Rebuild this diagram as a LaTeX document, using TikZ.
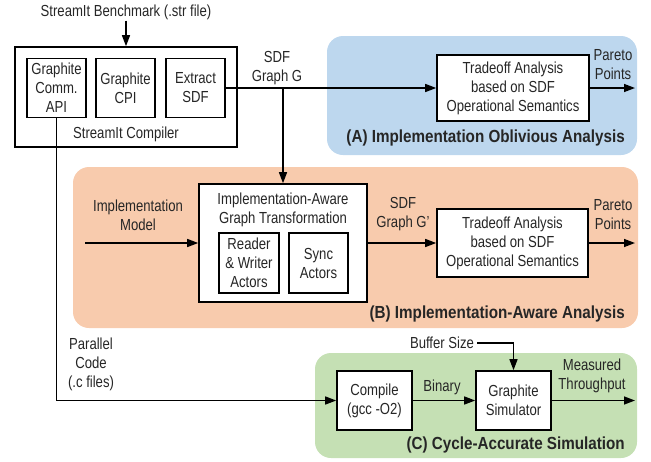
\documentclass[tikz,border=0pt]{standalone}
\usepackage{fontspec}
\setmainfont{Liberation Sans}[FakeStretch=0.82]
\newfontfamily\labfont{Liberation Sans}[FakeStretch=0.87]
\usetikzlibrary{arrows.meta}
\definecolor{regA}{RGB}{189,215,238}
\definecolor{regB}{RGB}{248,203,173}
\definecolor{regC}{RGB}{197,224,180}
\definecolor{ink}{RGB}{38,38,38}
\tikzset{
  box/.style={draw=black, line width=1.6pt, fill=white, inner sep=0pt, align=center, font=\fontsize{16}{19}\selectfont, text=ink},
  txt/.style={inner sep=1pt, align=center, font=\fontsize{16}{19}\selectfont, text=ink},
  reglab/.style={inner sep=0pt, anchor=east, font=\labfont\bfseries\fontsize{17.5}{19}\selectfont, text=ink},
  region/.style={rounded corners=16pt},
  arr/.style={line width=1.4pt, -{Triangle[length=11pt,width=8pt]}},
  ln/.style={line width=1.4pt}
}
\begin{document}
\begin{tikzpicture}[x=1pt,y=-1pt]
\useasboundingbox (0,0) rectangle (651,461);
% regions
\fill[regA, region] (327,36) rectangle (637,155);
\fill[regB, region] (73,167) rectangle (638,328);
\fill[regC, region] (315,353) rectangle (637,458);
% compiler
\node[txt] (bench) at (126,12) {StreamIt Benchmark (.str file)};
\node[box, minimum width=222pt, minimum height=100pt] (comp) at (126,97) {};
\node[box, minimum width=59pt, minimum height=59pt] (comm) at (56.5,88) {Graphite\\Comm.\\API};
\node[box, minimum width=59pt, minimum height=59pt] (cpi) at (125.5,88) {Graphite\\CPI};
\node[box, minimum width=59pt, minimum height=59pt] (extract) at (195.5,88) {Extract\\SDF};
\node[txt] (complab) at (126,134) {StreamIt Compiler};
\node[txt] (sdfg) at (277,68) {SDF\\Graph G};
% A
\node[box, minimum width=152pt, minimum height=66pt] (tradeA) at (513,88) {Tradeoff Analysis\\based on SDF\\Operational Semantics};
\node[txt] (parA) at (613,65) {Pareto\\Points};
\coordinate (outA) at (635,88);
\node[reglab] (labA) at (625,138) {(A) Implementation Oblivious Analysis};
% B
\node[box, minimum width=168pt, minimum height=118pt] (aware) at (283,243) {};
\node[txt] (awaret) at (283,210) {Implementation-Aware\\Graph Transformation};
\node[box, minimum width=60pt, minimum height=60pt] (rw) at (249,263) {Reader\\\& Writer\\Actors};
\node[box, minimum width=59pt, minimum height=60pt] (sync) at (318.5,263) {Sync\\Actors};
\node[txt] (impl) at (138,215) {Implementation\\Model};
\coordinate (inB) at (85,243);
\node[txt] (sdfgp) at (403,214.5) {SDF\\Graph G’};
\node[box, minimum width=151pt, minimum height=68pt] (tradeB) at (512.5,243) {Tradeoff Analysis\\based on SDF\\Operational Semantics};
\node[txt] (parB) at (613,214.5) {Pareto\\Points};
\coordinate (outB) at (635,243);
\node[reglab] (labB) at (625,314) {(B) Implementation-Aware Analysis};
% C
\node[box, minimum width=75pt, minimum height=59pt] (compile) at (374.5,400.5) {Compile\\(gcc -O2)};
\node[box, minimum width=75pt, minimum height=59pt] (sim) at (513.5,400.5) {Graphite\\Simulator};
\node[txt] (bin) at (442,387) {Binary};
\node[txt, inner sep=3pt] (buf) at (442,343) {Buffer Size};
\node[txt] (meas) at (592,376) {Measured\\Throughput};
\coordinate (outC) at (635,400.5);
\node[txt] (par) at (91,364) {Parallel\\Code\\(.c files)};
\node[reglab] (labC) at (625,445) {(C) Cycle-Accurate Simulation};
% connectors
\draw[arr] (bench.south) -- (comp.north);
\draw[arr] (extract.east) -- (tradeA.west);
\coordinate (br) at (283,88);
\draw[arr] (br) -- (aware.north);
\draw[arr] (tradeA.east) -- (outA);
\draw[arr] (inB) -- (aware.west);
\draw[arr] (aware.east) -- (tradeB.west);
\draw[arr] (tradeB.east) -- (outB);
\draw[arr] (comm.south) |- (compile.west);
\draw[arr] (compile.east) -- (sim.west);
\draw[arr] (buf.east) -| (sim.north);
\draw[arr] (sim.east) -- (outC);
\end{tikzpicture}
\end{document}
